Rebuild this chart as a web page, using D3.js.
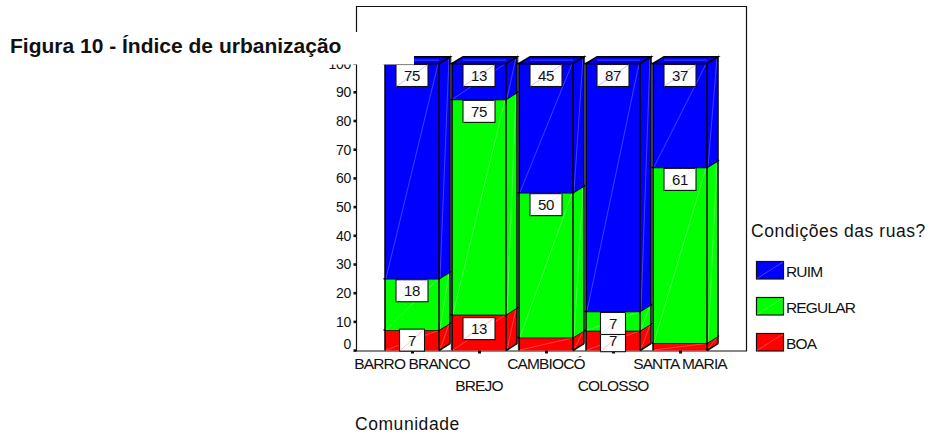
<!DOCTYPE html>
<html><head><meta charset="utf-8">
<script src="https://cdn.jsdelivr.net/npm/d3@7"></script>
<style>html,body{margin:0;padding:0;background:#fff}svg{display:block}text{font-family:"Liberation Sans",Arial,sans-serif;fill:#111}</style>
</head><body><svg id="c" width="934" height="434"></svg>
<script>
const categories=["BARRO BRANCO","BREJO","CAMBIOCÓ","COLOSSO","SANTA MARIA"];
const boa=[7.1,12.5,4.5,6.9,2.6];
const regular=[17.9,75,50.5,6.7,61.2];
const ruim=[75,12.5,45,86.4,36.2];
const boaLabels=["7","13",null,"7",null];
const regularLabels=["18","75","50","7","61"];
const ruimLabels=["75","13","45","87","37"];
const yTicks=[0,10,20,30,40,50,60,70,80,90,100];
const seriesNames=["RUIM","REGULAR","BOA"];
const colors={BOA:"#ff0000",REGULAR:"#00ff00",RUIM:"#0000ff"};
const lights={BOA:"#ff8080",REGULAR:"#90ff90",RUIM:"#8080ff"};
const title="Figura 10 - Índice de urbanização";
const legendTitle="Condições das ruas?";
const xTitle="Comunidade";

const svg=d3.select("#c");
const y=d3.scaleLinear().domain([0,100]).range([350.5,63.5]);
const barW=54, dx=11, dy=6.8;
const x=d3.scalePoint().domain(categories).range([385,653]);
const x0=c=>x(c);

// frame
svg.append("path").attr("d","M356.5,351V6.5H746.5V351H356").attr("fill","none").attr("stroke","#111").attr("stroke-width",1.2);

// y axis
const axis=svg.append("g");
yTicks.forEach(t=>{
  axis.append("rect").attr("x",353.5).attr("y",y(t)-1.2).attr("width",3).attr("height",2.6).attr("fill","#111");
  axis.append("text").attr("x",351).attr("y",y(t)+(t===0?-2:5)).attr("text-anchor","end").attr("font-size",14).attr("letter-spacing",-0.3).text(t);
});

// bars
const stackKeys=[["BOA",boa,boaLabels],["REGULAR",regular,regularLabels],["RUIM",ruim,ruimLabels]];
const labelLayer=[];
categories.forEach((c,i)=>{
  const g=svg.append("g"), l=x0(c), r=l+barW;
  let acc=0;
  if(i<2) g.append("rect").attr("x",r+dx+0.5).attr("y",y(100)-dy).attr("width",1.6).attr("height",y(0)-y(100)+dy).attr("fill","#bbb");
  g.append("rect").attr("x",l+barW/2-1).attr("y",350.5).attr("width",3).attr("height",3).attr("fill","#111");
  stackKeys.forEach(([k,vals,labs],si)=>{
    const yb=y(acc), yt=y(acc+vals[i]); acc+=vals[i];
    const col=colors[k], li=lights[k];
    g.append("path").attr("d",`M${r},${yb}L${r+dx},${yb-dy}L${r+dx},${yt-dy}L${r},${yt}Z`).attr("fill",col);
    g.append("line").attr("x1",r+1).attr("y1",yb-1).attr("x2",r+dx-1).attr("y2",yt-dy+1).attr("stroke",li).attr("stroke-width",0.5);
    g.append("rect").attr("x",l).attr("y",yt).attr("width",barW).attr("height",yb-yt).attr("fill",col);
    g.append("line").attr("x1",l+1).attr("y1",yb-0.5).attr("x2",r-1).attr("y2",yt+0.5).attr("stroke",li).attr("stroke-width",0.5);
    g.append("path").attr("d",`M${l-1.5},${yt}H${r}L${r+dx+1},${yt-dy-0.6}`).attr("fill","none").attr("stroke","#000").attr("stroke-width",1.5);
    if(si===2){
      g.append("path").attr("d",`M${l},${yt}L${l+dx},${yt-dy}H${r+dx}L${r},${yt}Z`).attr("fill",col).attr("stroke","#000").attr("stroke-width",1.5);
      g.append("line").attr("x1",l+dx).attr("y1",yt-dy/2).attr("x2",r).attr("y2",yt-dy/2).attr("stroke",li).attr("stroke-width",0.5);
    }
    if(labs[i]!==null){
      const w=labs[i].length>1?32:25, h=22;
      const off=(k==="BOA"&&yb-yt>30)?3:(k==="BOA"?-1:1);
      labelLayer.push({x:l+barW/2-w/2,y:yt+off,w,h,t:labs[i],li});
    }
  });
  g.append("path").attr("d",`M${l},${y(0)}V${y(acc)}M${r},${y(0)}V${y(acc)}M${r+dx},${y(0)-dy}V${y(acc)-dy}M${r},${y(0)}L${r+dx},${y(0)-dy}`)
    .attr("fill","none").attr("stroke","#000").attr("stroke-width",1.5);
});
// category labels
categories.forEach((c,i)=>{
  svg.append("text").attr("x",x0(c)+barW/2).attr("y",i%2?390.5:369).attr("text-anchor","middle")
    .attr("font-size",15.5).attr("letter-spacing",-0.85).text(c);
});
// data labels
const lg=svg.append("g");
labelLayer.forEach(d=>{
  lg.append("rect").attr("x",d.x).attr("y",d.y).attr("width",d.w).attr("height",d.h).attr("fill","#fff").attr("stroke","#111").attr("stroke-width",1.1);
  lg.append("line").attr("x1",d.x).attr("y1",d.y+d.h).attr("x2",d.x+d.w).attr("y2",d.y).attr("stroke",d.li).attr("stroke-width",0.5);
  lg.append("text").attr("x",d.x+d.w/2).attr("y",d.y+16.5).attr("text-anchor","middle").attr("font-size",15).attr("letter-spacing",-0.4).text(d.t);
});
// title mask & title
svg.append("rect").attr("x",0).attr("y",32).attr("width",414).attr("height",32.5).attr("fill","#fff");
svg.append("text").attr("x",10).attr("y",53).attr("font-size",21).attr("font-weight","bold").text(title);
// legend
svg.append("text").attr("x",751).attr("y",236.5).attr("font-size",17.5).attr("letter-spacing",0.55).text(legendTitle);
seriesNames.forEach((n,i)=>{
  const ly=261.5+i*36;
  svg.append("rect").attr("x",756.5).attr("y",ly).attr("width",27).attr("height",17.5).attr("fill",colors[n]).attr("stroke","#111").attr("stroke-width",1.2);
  svg.append("line").attr("x1",757).attr("y1",ly+17).attr("x2",783).attr("y2",ly+0.5).attr("stroke",lights[n]).attr("stroke-width",0.5);
  svg.append("text").attr("x",786).attr("y",ly+15).attr("font-size",15.5).attr("letter-spacing",-0.85).text(n);
});
svg.append("text").attr("x",355).attr("y",429.5).attr("font-size",17.5).attr("letter-spacing",0.55).text(xTitle);
</script></body></html>
